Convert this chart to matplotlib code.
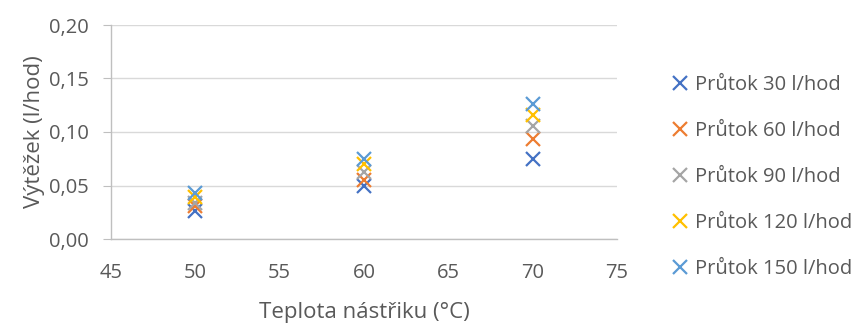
import matplotlib
matplotlib.use("Agg")
import matplotlib.pyplot as plt
from matplotlib.ticker import FuncFormatter, MultipleLocator

plt.rcParams['font.family'] = ['Open Sans', 'DejaVu Sans']

temps = [50, 60, 70]
series_names = ["Průtok 30 l/hod", "Průtok 60 l/hod", "Průtok 90 l/hod",
                "Průtok 120 l/hod", "Průtok 150 l/hod"]
flow30 = [0.026, 0.050, 0.075]
flow60 = [0.031, 0.055, 0.093]
flow90 = [0.034, 0.063, 0.106]
flow120 = [0.039, 0.070, 0.116]
flow150 = [0.043, 0.075, 0.126]
colors = ["#4472C4", "#ED7D31", "#A5A5A5", "#FFC000", "#5B9BD5"]

fig = plt.figure(figsize=(8.55, 3.23), dpi=100)
ax = fig.add_axes([111/855, 1-239/323, (617-111)/855, (239-25)/323])

for vals, name, c in zip([flow30, flow60, flow90, flow120, flow150], series_names, colors):
    ax.plot(temps, vals, linestyle='none', marker='x', markersize=10,
            markeredgewidth=1.6, color=c, label=name)

ax.set_xlim(45, 75)
ax.set_ylim(0, 0.20)
ax.xaxis.set_major_locator(MultipleLocator(5))
ax.yaxis.set_major_locator(MultipleLocator(0.05))
ax.yaxis.set_major_formatter(FuncFormatter(lambda v, p: f"{v:.2f}".replace('.', ',')))

ax.grid(axis='y', color='#D9D9D9', linewidth=1)
ax.set_axisbelow(True)
for s in ['top', 'right']:
    ax.spines[s].set_visible(False)
for s in ['left', 'bottom']:
    ax.spines[s].set_color('#BFBFBF')
    ax.spines[s].set_linewidth(1)
ax.tick_params(axis='y', colors='#BFBFBF', labelcolor='#595959', length=6, labelsize=14.5,
               direction='out', pad=10)
ax.tick_params(axis='x', length=0, labelcolor='#595959', labelsize=14.5, pad=17)

ax.set_xlabel("Teplota nástřiku (°C)", fontsize=16, color='#595959', labelpad=14)
ax.set_ylabel("Výtěžek (l/hod)", fontsize=16, color='#595959', labelpad=3)

leg = fig.legend(loc='center left', bbox_to_anchor=(656/855, 1-177/323), frameon=False,
                 fontsize=14.5, labelspacing=1.3, handletextpad=0.05, handlelength=1.4,
                 labelcolor='#595959', borderpad=0)

fig.savefig("out.png", dpi=100)
